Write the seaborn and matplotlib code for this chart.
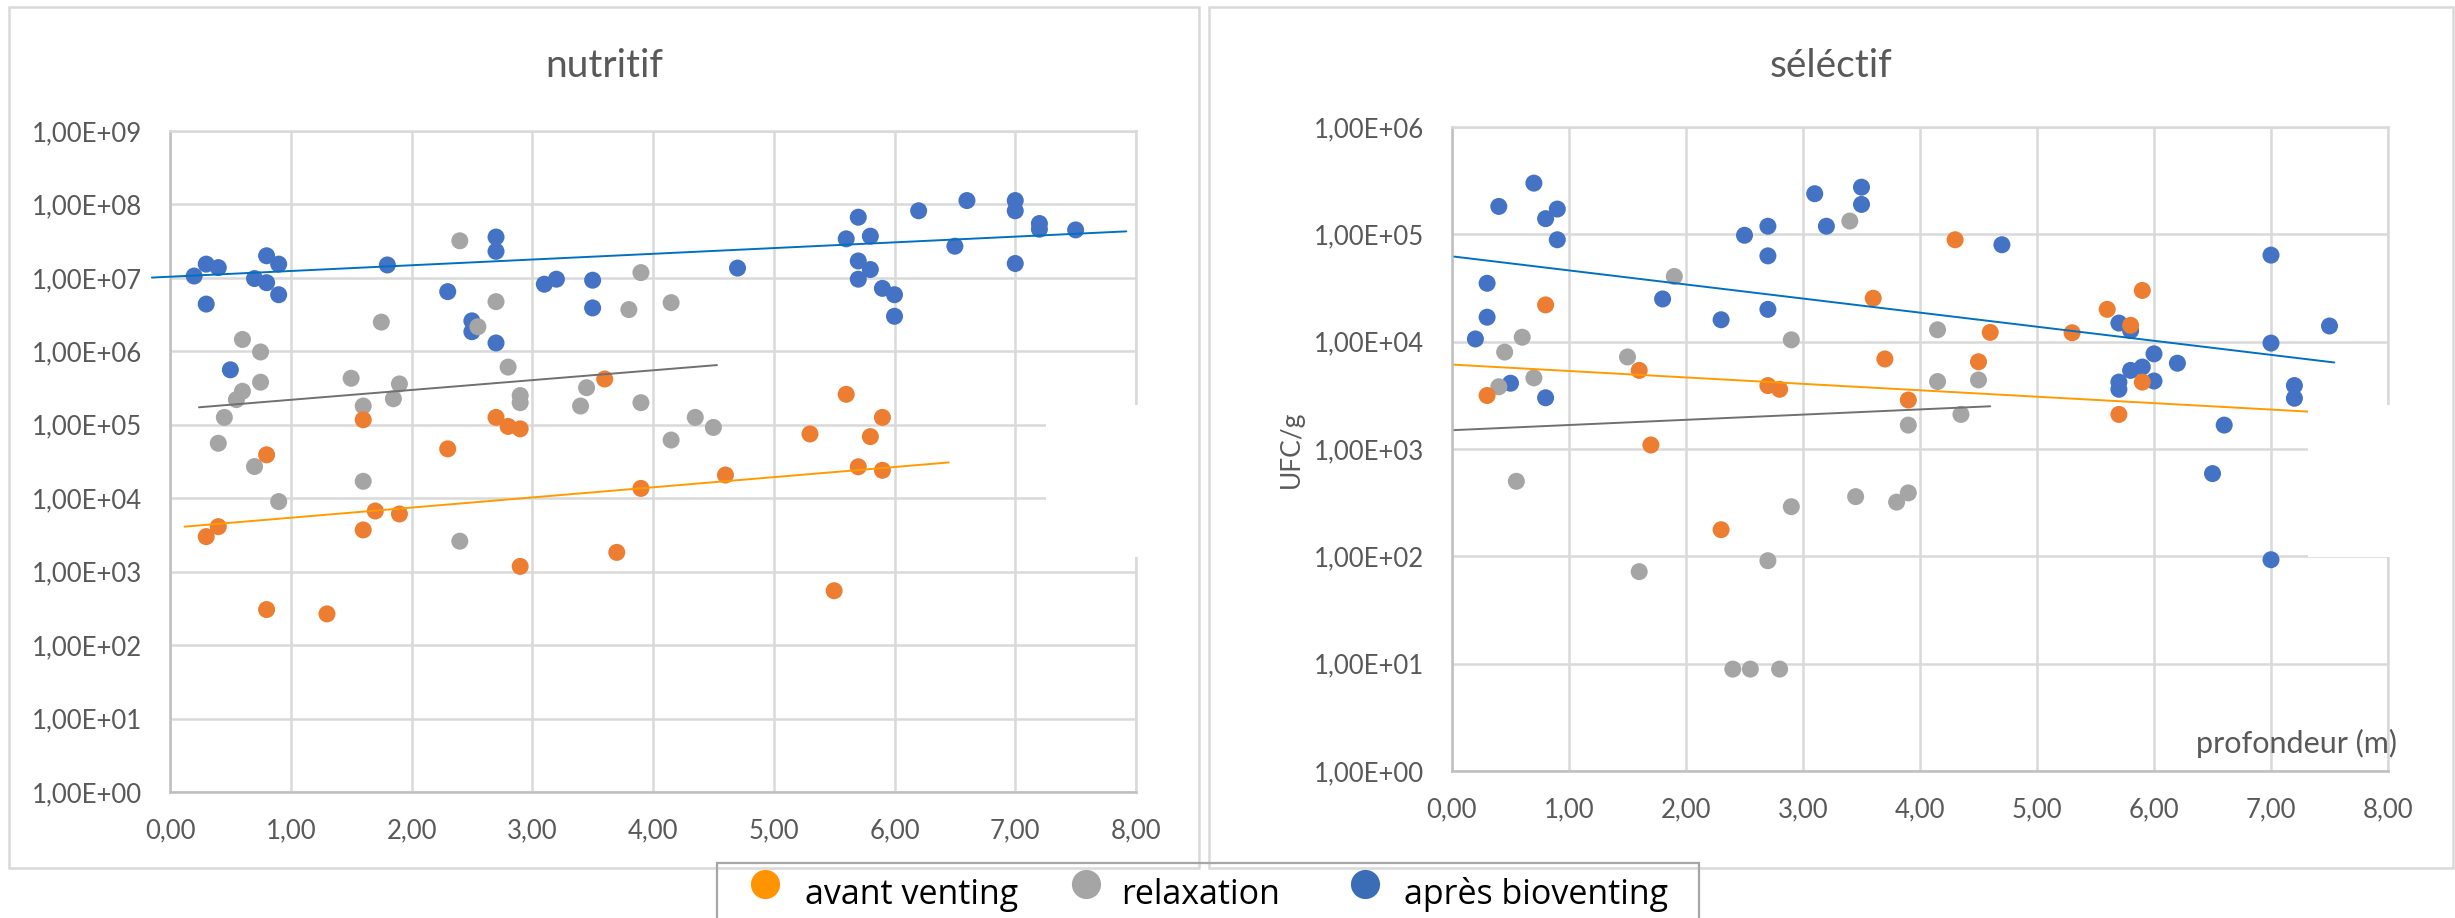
import numpy as np
import pandas as pd
import matplotlib
matplotlib.use("Agg")
import matplotlib.pyplot as plt
from matplotlib.patches import Rectangle
from matplotlib.lines import Line2D
from matplotlib.ticker import FixedLocator, FuncFormatter, NullLocator
import seaborn as sns

# ---------------- data ----------------
phases = ["avant venting", "relaxation", "après bioventing"]

# nutritif medium (UFC/g vs depth in m)
nut_avant_x = [0.3, 0.4, 0.8, 0.8, 1.3, 1.6, 1.6, 1.7, 1.9, 2.3, 2.7, 2.8, 2.9, 2.9,
               3.6, 3.7, 3.9, 4.6, 5.3, 5.5, 5.6, 5.7, 5.8, 5.9, 5.9]
nut_avant_y = [3.0e3, 4.1e3, 3.9e4, 3.05e2, 2.66e2, 1.17e5, 3.7e3, 6.7e3, 6.1e3, 4.7e4,
               1.26e5, 9.5e4, 8.8e4, 1.18e3, 4.2e5, 1.83e3, 1.36e4, 2.07e4, 7.5e4, 5.5e2,
               2.6e5, 2.68e4, 6.9e4, 1.26e5, 2.4e4]

nut_relax_x = [0.4, 0.45, 0.55, 0.6, 0.6, 0.7, 0.75, 0.75, 0.9, 1.5, 1.6, 1.6, 1.75, 1.85,
               1.9, 2.4, 2.4, 2.55, 2.7, 2.8, 2.9, 2.9, 3.4, 3.45, 3.8, 3.9, 3.9, 4.15,
               4.15, 4.35, 4.5]
nut_relax_y = [5.6e4, 1.26e5, 2.2e5, 1.45e6, 2.86e5, 2.7e4, 9.8e5, 3.8e5, 9.0e3, 4.3e5,
               1.8e5, 1.7e4, 2.5e6, 2.26e5, 3.6e5, 3.2e7, 2.6e3, 2.16e6, 4.75e6, 6.1e5,
               2.5e5, 2.0e5, 1.8e5, 3.2e5, 3.7e6, 1.18e7, 2.0e5, 4.6e6, 6.2e4, 1.26e5,
               9.2e4]

nut_apres_x = [0.2, 0.3, 0.3, 0.4, 0.5, 0.7, 0.8, 0.8, 0.9, 0.9, 1.8, 2.3, 2.5, 2.5,
               2.7, 2.7, 2.7, 3.1, 3.2, 3.5, 3.5, 4.7, 5.6, 5.7, 5.7, 5.7, 5.8, 5.8,
               5.9, 6.0, 6.0, 6.2, 6.5, 6.6, 7.0, 7.0, 7.0, 7.2, 7.2, 7.5]
nut_apres_y = [1.06e7, 1.54e7, 4.4e6, 1.38e7, 5.6e5, 9.8e6, 2.0e7, 8.6e6, 1.54e7, 5.9e6,
               1.5e7, 6.5e6, 2.6e6, 1.85e6, 3.6e7, 2.3e7, 1.3e6, 8.2e6, 9.6e6, 9.3e6,
               3.9e6, 1.36e7, 3.4e7, 6.7e7, 1.7e7, 9.6e6, 3.7e7, 1.3e7, 7.2e6, 5.9e6,
               3.0e6, 8.2e7, 2.7e7, 1.13e8, 1.13e8, 8.2e7, 1.57e7, 5.5e7, 4.6e7, 4.5e7]

# séléctif medium
sel_avant_x = [0.3, 0.8, 1.6, 1.7, 2.3, 2.7, 2.8, 3.6, 3.7, 3.9, 4.3, 4.5, 4.6, 5.3,
               5.6, 5.7, 5.8, 5.9, 5.9]
sel_avant_y = [3.15e3, 2.2e4, 5.4e3, 1.09e3, 1.77e2, 3.9e3, 3.6e3, 2.54e4, 6.9e3, 2.86e3,
               8.9e4, 6.5e3, 1.22e4, 1.21e4, 2.0e4, 2.1e3, 1.42e4, 3.0e4, 4.2e3]

sel_relax_x = [0.4, 0.45, 0.55, 0.6, 0.7, 1.5, 1.6, 1.9, 2.4, 2.55, 2.7, 2.8, 2.9, 2.9,
               3.4, 3.45, 3.8, 3.9, 3.9, 4.15, 4.15, 4.35, 4.5]
sel_relax_y = [3.8e3, 8.0e3, 5.0e2, 1.1e4, 4.6e3, 7.2e3, 72, 4.05e4, 8.9, 8.9, 91, 8.9,
               1.04e4, 2.9e2, 1.33e5, 3.6e2, 3.2e2, 3.9e2, 1.67e3, 1.29e4, 4.25e3, 2.1e3,
               4.4e3]

sel_apres_x = [0.2, 0.3, 0.3, 0.4, 0.5, 0.7, 0.8, 0.8, 0.9, 0.9, 1.8, 2.3, 2.5, 2.7,
               2.7, 2.7, 3.1, 3.2, 3.5, 3.5, 4.7, 5.7, 5.7, 5.7, 5.8, 5.8, 5.9, 6.0,
               6.0, 6.2, 6.5, 6.6, 7.0, 7.0, 7.0, 7.2, 7.2, 7.5]
sel_apres_y = [1.06e4, 3.5e4, 1.69e4, 1.82e5, 4.1e3, 3.0e5, 1.4e5, 3.0e3, 1.72e5, 8.9e4,
               2.5e4, 1.6e4, 9.8e4, 1.19e5, 6.3e4, 2.0e4, 2.39e5, 1.19e5, 2.75e5, 1.9e5,
               8.0e4, 1.49e4, 4.2e3, 3.6e3, 1.27e4, 5.4e3, 5.8e3, 7.7e3, 4.3e3, 6.3e3,
               5.9e2, 1.67e3, 6.4e4, 9.7e3, 93, 3.9e3, 2.97e3, 1.4e4]

# exponential trend lines (start / end)
nut_trend_x = {"avant venting": [0.12, 6.45], "relaxation": [0.24, 4.53],
               "après bioventing": [-0.15, 7.92]}
nut_trend_y = {"avant venting": [4.1e3, 3.07e4], "relaxation": [1.73e5, 6.5e5],
               "après bioventing": [1.01e7, 4.3e7]}
sel_trend_x = {"avant venting": [0.02, 7.32], "relaxation": [0.02, 4.6],
               "après bioventing": [0.02, 7.54]}
sel_trend_y = {"avant venting": [6.1e3, 2.23e3], "relaxation": [1.5e3, 2.5e3],
               "après bioventing": [6.2e4, 6.4e3]}

x_ticks = [0, 1, 2, 3, 4, 5, 6, 7, 8]
nut_y_exp = list(range(0, 10))
sel_y_exp = list(range(0, 7))

# ---------------- style ----------------
point_colors = {"avant venting": "#ED7D31", "relaxation": "#A5A5A5",
                "après bioventing": "#4472C4"}
trend_colors = {"avant venting": "#FF9B00", "relaxation": "#707070",
                "après bioventing": "#0070C0"}
legend_colors = ["#FF9400", "#A5A5A5", "#3A6DB6"]

sns.set_theme(style="white")
plt.rcParams["font.family"] = ["Lato", "DejaVu Sans"]

W, H = 2455, 918
fig = plt.figure(figsize=(W / 100, H / 100), dpi=100)
fig.patch.set_facecolor("white")


def frac_box(x0, y0, x1, y1):
    return [x0 / W, 1 - y1 / H, (x1 - x0) / W, (y1 - y0) / H]


def make_frame(x, y_by_phase_x, y_by_phase_y):
    rows = []
    for ph in ["après bioventing", "relaxation", "avant venting"]:
        for xv, yv in zip(y_by_phase_x[ph], y_by_phase_y[ph]):
            rows.append({"profondeur": xv, "UFC": yv, "phase": ph})
    return pd.DataFrame(rows)


def y_fmt(v, _):
    return f"{v:.2E}".replace(".", ",")


def x_fmt(v, _):
    return f"{v:.2f}".replace(".", ",")


def style_axes(ax, exps):
    ax.set_xscale("linear")
    ax.set_yscale("log")
    ax.set_xlim(0, 8)
    ax.set_ylim(10.0 ** exps[0], 10.0 ** exps[-1])
    ax.xaxis.set_major_locator(FixedLocator(x_ticks))
    ax.yaxis.set_major_locator(FixedLocator([10.0 ** e for e in exps]))
    ax.yaxis.set_minor_locator(NullLocator())
    ax.xaxis.set_major_formatter(FuncFormatter(x_fmt))
    ax.yaxis.set_major_formatter(FuncFormatter(y_fmt))
    ax.grid(True, color="#D9D9D9", linewidth=1.8)
    ax.set_axisbelow(True)
    ax.tick_params(axis="both", length=0, labelsize=18.5, labelcolor="#595959")
    ax.tick_params(axis="y", pad=20)
    ax.tick_params(axis="x", pad=19)
    for side in ["left", "bottom"]:
        ax.spines[side].set_color("#BFBFBF")
        ax.spines[side].set_linewidth(1.8)
    for side in ["top", "right"]:
        ax.spines[side].set_color("#D9D9D9")
        ax.spines[side].set_linewidth(1.8)
    ax.set_xlabel("")
    ax.set_ylabel("")


panels = [
    dict(box=(170, 131, 1136, 792), exps=nut_y_exp, title="nutritif", title_x=604,
         xs={"avant venting": nut_avant_x, "relaxation": nut_relax_x, "après bioventing": nut_apres_x},
         ys={"avant venting": nut_avant_y, "relaxation": nut_relax_y, "après bioventing": nut_apres_y},
         tx=nut_trend_x, ty=nut_trend_y, frame=(8.7, 7, 1199, 868)),
    dict(box=(1452, 127, 2388, 771), exps=sel_y_exp, title="séléctif", title_x=1831,
         xs={"avant venting": sel_avant_x, "relaxation": sel_relax_x, "après bioventing": sel_apres_x},
         ys={"avant venting": sel_avant_y, "relaxation": sel_relax_y, "après bioventing": sel_apres_y},
         tx=sel_trend_x, ty=sel_trend_y, frame=(1209, 7, 2453, 868)),
]

axes = []
for p in panels:
    fx0, fy0, fx1, fy1 = p["frame"]
    fig.add_artist(Rectangle((fx0 / W, 1 - fy1 / H), (fx1 - fx0) / W, (fy1 - fy0) / H,
                             fill=False, edgecolor="#D9D9D9", linewidth=1.8,
                             transform=fig.transFigure, zorder=0))
    ax = fig.add_axes(frac_box(*p["box"]))
    df = make_frame(None, p["xs"], p["ys"])
    sns.scatterplot(data=df, x="profondeur", y="UFC", hue="phase", palette=point_colors,
                    s=150, linewidth=0, edgecolor="none", legend=False, ax=ax, zorder=3)
    for ph in phases:
        ax.plot(p["tx"][ph], p["ty"][ph], color=trend_colors[ph], linewidth=1.4,
                zorder=4, clip_on=False)
    style_axes(ax, p["exps"])
    fig.text(p["title_x"] / W, 1 - 77 / H, p["title"], ha="center", va="baseline",
             fontsize=28, color="#595959")
    axes.append(ax)

ax_sel = axes[1]
ax_sel.set_ylabel("UFC/g", fontsize=19, color="#595959")
ax_sel.yaxis.set_label_coords(-0.158, 0.5)
ax_sel.text(1.0096, 0.028, "profondeur (m)", transform=ax_sel.transAxes, ha="right",
            va="baseline", fontsize=22, color="#595959", zorder=5)

# blank patches over the right edge of each plot area
for x0, x1 in [(1046, 1160), (2308, 2400)]:
    fig.add_artist(Rectangle((x0 / W, 1 - 557 / H), (x1 - x0) / W, (557 - 405) / H,
                             facecolor="white", edgecolor="none",
                             transform=fig.transFigure, zorder=20))

# shared legend
fig.add_artist(Rectangle((717 / W, 1 - 940 / H), (1699 - 717) / W, (940 - 863) / H,
                         fill=False, edgecolor="#A6A6A6", linewidth=1.6,
                         transform=fig.transFigure, zorder=21))
for cx, tx, label, col in zip([765, 1086, 1365], [805, 1121, 1404], phases, legend_colors):
    fig.add_artist(Line2D([cx / W], [1 - 884 / H], marker="o", markersize=21,
                          markerfacecolor=col, markeredgewidth=0, linestyle="none",
                          transform=fig.transFigure, zorder=22))
    fig.text(tx / W, 1 - 904 / H, label, ha="left", va="baseline", fontsize=24.5,
             color="black", family=["Open Sans", "DejaVu Sans"], zorder=22)

fig.savefig("out.png", dpi=100, facecolor="white")
